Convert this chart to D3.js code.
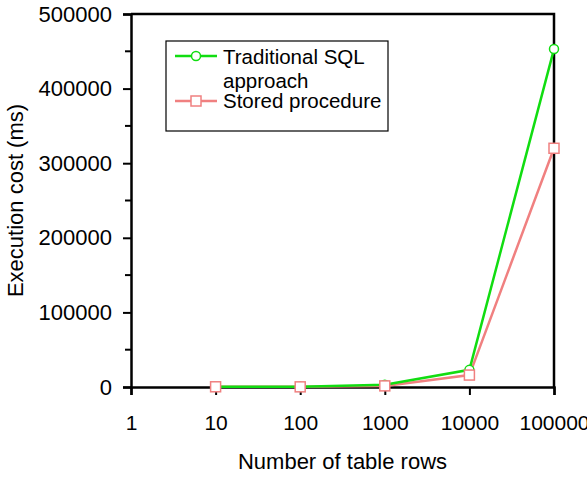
<!DOCTYPE html>
<html>
<head>
<meta charset="utf-8">
<script src="https://cdn.jsdelivr.net/npm/d3@7"></script>
<style>
  body { margin: 0; background: #fff; }
  text { font-family: "Liberation Sans", Arial, sans-serif; }
</style>
</head>
<body>
<script>
// data
var rows = [10, 100, 1000, 10000, 100000];
var sqlCost = [500, 400, 3000, 23000, 453000];
var procCost = [300, 200, 1500, 16000, 320000];
var xTicks = [1, 10, 100, 1000, 10000, 100000];
var yTicks = [0, 100000, 200000, 300000, 400000, 500000];

const width = 587, height = 478;
const mLeft = 131, mRight = 554, mTop = 14, mBottom = 387;
const fs = 20.5, titleFs = 22;

const svg = d3.select("body")
    .append("svg")
    .attr("width", width)
    .attr("height", height);

const x = d3.scaleLog().domain([1, 100000]).range([mLeft, mRight]);
const y = d3.scaleLinear().domain([0, 500000]).range([mBottom, mTop]);

// frame (top + right)
svg.append("path")
    .attr("d", "M" + mLeft + "," + mTop + "H" + mRight + "V" + mBottom)
    .attr("fill", "none")
    .attr("stroke", "#000")
    .attr("stroke-width", 2.5);

// y axis
const yAxis = svg.append("g")
    .attr("transform", "translate(" + mLeft + ",0)")
    .call(d3.axisLeft(y).tickValues(yTicks).tickFormat(d3.format("d")).tickSize(8).tickPadding(11));
yAxis.select(".domain").attr("stroke-width", 2.5);
yAxis.selectAll(".tick line").attr("stroke-width", 2);
yAxis.selectAll("text").attr("font-size", 22).attr("fill", "#000");

// minor y ticks
svg.append("g").selectAll("line")
    .data(d3.range(50000, 500000, 100000))
    .enter().append("line")
    .attr("x1", mLeft - 6).attr("x2", mLeft)
    .attr("y1", d => y(d)).attr("y2", d => y(d))
    .attr("stroke", "#000").attr("stroke-width", 2);

// x axis
const xAxis = svg.append("g")
    .attr("transform", "translate(0," + mBottom + ")")
    .call(d3.axisBottom(x).tickValues(xTicks).tickFormat(d3.format("d")).tickSize(8).tickPadding(20));
xAxis.select(".domain").attr("stroke-width", 2.5);
xAxis.selectAll(".tick line").attr("stroke-width", 2);
xAxis.selectAll("text").attr("font-size", 21).attr("fill", "#000");

// axis titles
svg.append("text")
    .attr("x", (mLeft + mRight) / 2)
    .attr("y", 469)
    .attr("text-anchor", "middle")
    .attr("font-size", titleFs)
    .text("Number of table rows");

svg.append("text")
    .attr("transform", "translate(23," + ((mTop + mBottom) / 2) + ") rotate(-90)")
    .attr("text-anchor", "middle")
    .attr("font-size", titleFs)
    .text("Execution cost (ms)");

const green = "#11dd11", pink = "#f08080";
const line = d3.line().x((d, i) => x(rows[i])).y(d => y(d));

// series
svg.append("path").datum(procCost)
    .attr("d", line).attr("fill", "none")
    .attr("stroke", pink).attr("stroke-width", 2.5);
svg.append("path").datum(sqlCost)
    .attr("d", line).attr("fill", "none")
    .attr("stroke", green).attr("stroke-width", 2.5);

svg.append("g").selectAll("circle")
    .data(sqlCost).enter().append("circle")
    .attr("cx", (d, i) => x(rows[i])).attr("cy", d => y(d))
    .attr("r", 4.5).attr("fill", "#fff")
    .attr("stroke", green).attr("stroke-width", 1.5);

svg.append("g").selectAll("rect")
    .data(procCost).enter().append("rect")
    .attr("x", (d, i) => x(rows[i]) - 5).attr("y", d => y(d) - 5)
    .attr("width", 10).attr("height", 10).attr("fill", "#fff")
    .attr("stroke", pink).attr("stroke-width", 1.5);

// legend
const lg = svg.append("g");
lg.append("rect")
    .attr("x", 166).attr("y", 41).attr("width", 222).attr("height", 90)
    .attr("fill", "#fff").attr("stroke", "#000").attr("stroke-width", 1.2);

lg.append("line").attr("x1", 175).attr("x2", 217).attr("y1", 56).attr("y2", 56)
    .attr("stroke", green).attr("stroke-width", 2.5);
lg.append("circle").attr("cx", 196).attr("cy", 56).attr("r", 4.5)
    .attr("fill", "#fff").attr("stroke", green).attr("stroke-width", 1.5);
lg.append("line").attr("x1", 175).attr("x2", 217).attr("y1", 101).attr("y2", 101)
    .attr("stroke", pink).attr("stroke-width", 2.5);
lg.append("rect").attr("x", 191).attr("y", 96).attr("width", 10).attr("height", 10)
    .attr("fill", "#fff").attr("stroke", pink).attr("stroke-width", 1.5);

lg.append("text").attr("x", 223).attr("y", 64).attr("font-size", fs).text("Traditional SQL");
lg.append("text").attr("x", 223).attr("y", 88).attr("font-size", fs).text("approach");
lg.append("text").attr("x", 223).attr("y", 108).attr("font-size", fs).text("Stored procedure");
</script>
</body>
</html>
